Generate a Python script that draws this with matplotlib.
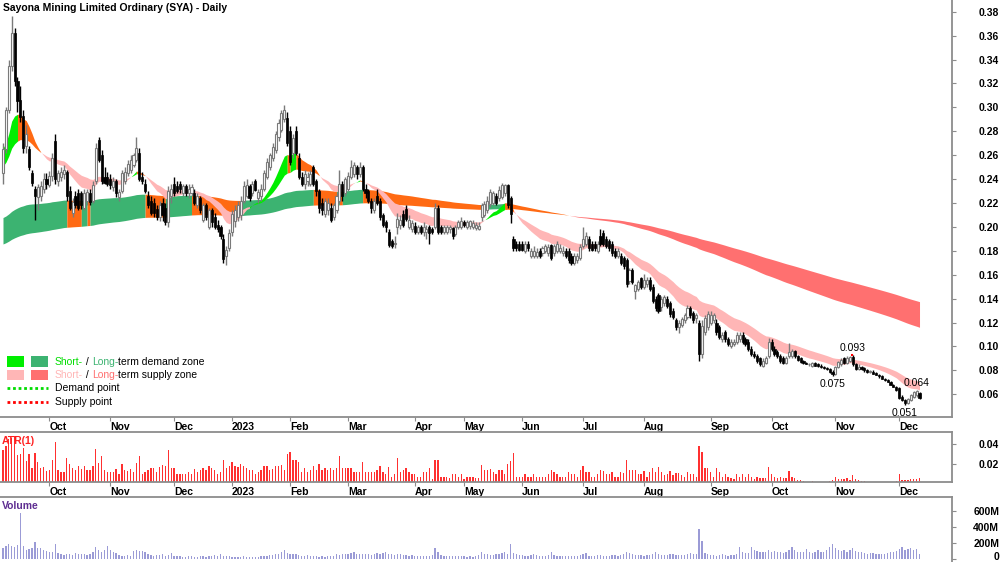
import numpy as np
import pandas as pd
import matplotlib
matplotlib.use("Agg")
import matplotlib.pyplot as plt
from matplotlib.patches import Rectangle
from matplotlib.lines import Line2D
from matplotlib.transforms import ScaledTranslation

plt.rcParams["font.family"] = ["Liberation Sans", "DejaVu Sans"]

# ---- trading calendar (ASX closures + May 2023 trading halt) ----
asx_holidays = ["2022-09-22", "2022-12-26", "2022-12-27", "2023-01-02", "2023-01-26",
                "2023-04-07", "2023-04-10", "2023-04-25", "2023-06-12"]
halt_days = ["2023-05-24", "2023-05-25", "2023-05-26"]

dates = pd.bdate_range("2022-09-08", "2023-12-12")
dates = dates[~dates.isin(pd.to_datetime(asx_holidays + halt_days))]

# ---- daily OHLC, one line per month ----
open_ = [
    .245, .265, .298, .335, .362, .322, .306, .293, .268, .265, .245, .232, .225, .226, .232, .240,
    .235, .243, .272, .238, .242, .244, .246, .230, .212, .226, .228, .228, .216, .222, .228, .222, .238, .273, .260, .242, .242,
    .240, .233, .238, .225, .230, .238, .245, .248, .252, .256, .262, .242, .236, .226, .222, .220, .215, .208, .220, .216, .204, .226,
    .236, .234, .236, .228, .234, .228, .228, .228, .218, .224, .206, .218, .200, .214, .208, .202, .200, .190, .176, .182,
    .196, .205, .208, .210, .222, .226, .234, .228, .238, .224, .226, .232, .242, .250, .258, .264, .275, .281, .290, .291,
    .280, .262, .280, .258, .242, .236, .238, .236, .250, .238, .230, .220, .211, .214, .216, .208, .214, .222, .236, .228,
    .232, .242, .244, .250, .244, .250, .232, .230, .222, .214, .226, .222, .210, .204, .196, .188, .186, .200, .202, .211, .215, .200, .198,
    .201, .196, .200, .196, .196, .200, .198, .200, .216, .200, .196, .196, .198, .199, .194, .200, .200,
    .204, .200, .201, .200, .199, .198, .208, .210, .214, .219, .220, .226, .224, .225, .228, .235, .224, .190, .186, .186,
    .186, .180, .186, .176, .176, .176, .180, .178, .180, .178, .185, .178, .180, .180, .178, .180, .180, .176, .170, .172, .174,
    .184, .186, .190, .186, .186, .180, .192, .195, .190, .188, .186, .180, .176, .176, .174, .172, .155, .164, .146, .148, .157,
    .150, .152, .156, .150, .140, .143, .133, .136, .140, .136, .130, .122, .116, .118, .122, .125, .132, .128, .124, .120, .094, .112, .116,
    .120, .122, .120, .116, .106, .112, .106, .100, .102, .104, .106, .110, .106, .104, .098, .094, .092, .090, .084, .086, .092,
    .104, .098, .095, .092, .090, .086, .092, .092, .096, .092, .090, .088, .086, .085, .084, .086, .085, .084, .083, .082, .081, .079,
    .077, .083, .085, .090, .086, .088, .091, .085, .081, .083, .082, .080, .079, .079, .078, .076, .075, .073, .072, .070, .068, .066,
    .065, .058, .055, .053, .055, .058, .059, .061,
]
high = [
    .270, .300, .340, .376, .366, .325, .318, .298, .285, .268, .248, .234, .236, .238, .245, .245,
    .247, .262, .278, .248, .250, .252, .248, .234, .224, .230, .232, .230, .232, .232, .232, .238, .270, .275, .264, .250, .246,
    .244, .242, .240, .232, .248, .250, .256, .260, .262, .275, .266, .246, .240, .230, .226, .224, .218, .222, .224, .220, .234, .236,
    .242, .238, .238, .236, .236, .236, .236, .232, .228, .226, .220, .220, .216, .216, .212, .206, .202, .194, .184, .198,
    .214, .218, .222, .226, .238, .240, .236, .238, .240, .232, .236, .248, .258, .262, .270, .280, .290, .298, .302, .296,
    .284, .278, .284, .262, .246, .248, .246, .248, .252, .240, .232, .224, .224, .224, .220, .220, .228, .248, .238, .242,
    .246, .256, .254, .252, .254, .252, .236, .232, .224, .224, .232, .224, .212, .206, .198, .190, .192, .212, .210, .214, .218, .210, .206,
    .204, .202, .202, .204, .202, .202, .200, .220, .218, .202, .202, .202, .202, .200, .202, .206, .208,
    .206, .206, .206, .206, .204, .204, .220, .222, .226, .232, .230, .228, .234, .237, .236, .236, .226, .192, .188, .188,
    .188, .188, .188, .182, .184, .182, .182, .184, .186, .186, .186, .186, .188, .186, .184, .182, .182, .178, .178, .178, .186,
    .200, .196, .192, .188, .188, .188, .198, .197, .192, .190, .188, .182, .182, .178, .176, .174, .166, .166, .152, .156, .158,
    .161, .158, .158, .152, .142, .145, .142, .143, .142, .138, .132, .124, .122, .125, .128, .135, .134, .130, .128, .122, .122, .126, .130,
    .130, .128, .123, .118, .112, .114, .108, .106, .106, .112, .112, .112, .108, .106, .100, .096, .094, .091, .090, .092, .107,
    .106, .100, .097, .094, .092, .092, .103, .098, .097, .093, .091, .089, .087, .086, .087, .087, .086, .085, .084, .083, .082, .080,
    .084, .088, .090, .091, .092, .092, .093, .086, .085, .084, .083, .081, .080, .080, .079, .077, .076, .074, .073, .071, .069, .067,
    .066, .059, .056, .057, .060, .063, .064, .062,
]
low = [
    .236, .262, .295, .330, .318, .296, .288, .262, .262, .248, .234, .206, .214, .222, .228, .232,
    .233, .238, .236, .234, .238, .240, .222, .214, .208, .216, .214, .215, .214, .218, .218, .220, .236, .254, .236, .236, .234,
    .232, .230, .225, .222, .228, .236, .243, .245, .250, .254, .238, .236, .228, .216, .210, .208, .206, .205, .205, .202, .200, .220,
    .226, .228, .228, .226, .226, .224, .226, .218, .216, .212, .204, .206, .198, .200, .198, .196, .190, .170, .168, .180,
    .192, .200, .205, .206, .220, .224, .222, .226, .230, .220, .222, .230, .240, .248, .255, .262, .272, .279, .288, .268,
    .252, .258, .260, .240, .234, .232, .234, .234, .234, .226, .212, .210, .208, .210, .204, .206, .212, .220, .222, .226,
    .230, .240, .242, .240, .242, .230, .224, .220, .212, .212, .218, .206, .200, .196, .183, .182, .182, .194, .198, .200, .205, .198, .196,
    .194, .194, .194, .192, .190, .186, .194, .198, .194, .194, .194, .194, .195, .190, .192, .198, .198,
    .200, .198, .198, .198, .197, .197, .205, .208, .212, .217, .218, .218, .222, .223, .226, .216, .203, .180, .180, .180,
    .180, .178, .180, .174, .174, .174, .174, .176, .178, .176, .172, .176, .178, .178, .176, .174, .170, .168, .168, .170, .172,
    .182, .184, .180, .180, .180, .178, .184, .184, .182, .180, .176, .174, .174, .168, .165, .150, .152, .152, .140, .146, .148,
    .148, .150, .146, .136, .130, .128, .130, .134, .132, .125, .123, .114, .111, .116, .120, .123, .124, .120, .120, .088, .090, .110, .114,
    .118, .120, .110, .106, .104, .104, .100, .099, .100, .102, .104, .102, .100, .096, .092, .090, .086, .084, .083, .085, .090,
    .096, .092, .090, .086, .085, .085, .090, .090, .090, .088, .086, .085, .085, .084, .083, .084, .083, .082, .081, .080, .078, .075,
    .076, .082, .084, .085, .085, .087, .084, .080, .080, .080, .079, .078, .078, .077, .076, .074, .073, .071, .070, .068, .066, .063,
    .056, .054, .051, .052, .054, .057, .058, .056,
]
close = [
    .265, .298, .335, .362, .322, .305, .292, .266, .278, .250, .237, .226, .233, .234, .240, .236,
    .243, .258, .240, .245, .246, .248, .226, .216, .221, .218, .216, .218, .228, .229, .221, .235, .266, .256, .238, .237, .236,
    .235, .238, .228, .229, .245, .246, .253, .256, .260, .266, .240, .238, .230, .218, .212, .212, .208, .218, .210, .204, .230, .232,
    .228, .230, .232, .234, .228, .232, .233, .220, .226, .214, .218, .208, .214, .204, .200, .198, .192, .173, .181, .195,
    .211, .214, .218, .222, .234, .235, .224, .236, .231, .229, .232, .245, .254, .260, .267, .278, .287, .295, .298, .270,
    .254, .274, .262, .242, .236, .244, .242, .244, .236, .230, .216, .214, .222, .220, .206, .218, .226, .236, .226, .240,
    .243, .250, .252, .244, .250, .232, .228, .222, .216, .222, .220, .208, .202, .200, .185, .184, .186, .207, .206, .202, .207, .206, .203,
    .196, .200, .196, .200, .198, .195, .196, .216, .196, .196, .200, .200, .200, .192, .200, .204, .205,
    .202, .204, .205, .203, .202, .201, .218, .219, .222, .229, .228, .220, .231, .235, .235, .218, .211, .182, .182, .181,
    .181, .186, .182, .180, .180, .179, .176, .182, .184, .183, .174, .184, .186, .182, .180, .176, .172, .170, .176, .176, .183,
    .190, .192, .182, .181, .182, .186, .186, .186, .184, .182, .178, .176, .180, .170, .167, .152, .164, .154, .151, .154, .150,
    .156, .156, .148, .138, .132, .130, .140, .141, .134, .127, .125, .116, .120, .123, .126, .132, .126, .122, .126, .094, .117, .124, .127,
    .126, .126, .112, .108, .110, .106, .102, .104, .104, .110, .110, .104, .102, .098, .094, .092, .088, .085, .088, .090, .104,
    .098, .094, .092, .088, .086, .090, .095, .096, .092, .089, .087, .086, .085, .085, .086, .084, .084, .083, .082, .081, .079, .077,
    .083, .087, .089, .086, .090, .091, .085, .081, .083, .081, .080, .079, .079, .077, .076, .075, .073, .072, .070, .068, .066, .064,
    .057, .055, .053, .056, .059, .062, .063, .057,
]
# daily volume, millions of shares
volume_m = [
    145, 160, 190, 165, 158, 180, 575, 166, 120, 125, 137, 220, 145, 137, 120, 108,
    95, 90, 185, 75, 62, 55, 70, 62, 58, 75, 66, 60, 62, 55, 70, 85, 150, 110, 95, 120, 166,
    110, 85, 80, 58, 45, 40, 48, 38, 104, 110, 104, 98, 88, 60, 55, 45, 52, 58, 70, 45, 55, 75,
    40, 35, 45, 32, 30, 38, 35, 30, 33, 45, 38, 30, 35, 40, 50, 45, 60, 35, 40, 45,
    30, 28, 25, 30, 35, 28, 25, 30, 28, 32, 40, 38, 45, 48, 55, 60, 70, 95, 116, 75,
    70, 60, 65, 58, 45, 40, 50, 38, 35, 45, 30, 35, 32, 40, 38, 35, 60, 55, 70, 65,
    60, 75, 95, 70, 65, 60, 72, 68, 55, 60, 75, 65, 80, 88, 70, 60, 55, 72, 65, 55, 50, 45, 48,
    40, 45, 38, 35, 42, 45, 55, 137, 85, 55, 45, 40, 38, 35, 40, 45, 42,
    35, 30, 38, 32, 40, 55, 95, 60, 65, 55, 50, 60, 70, 75, 85, 70, 187, 80, 60, 55,
    50, 45, 40, 55, 65, 50, 45, 40, 38, 55, 95, 50, 45, 40, 38, 35, 42, 40, 38, 45, 50,
    60, 75, 45, 40, 38, 50, 55, 45, 40, 42, 50, 48, 45, 50, 60, 95, 75, 65, 55, 50, 48,
    45, 55, 50, 60, 87, 70, 55, 50, 58, 65, 60, 55, 50, 48, 52, 60, 75, 65, 70, 379, 233, 75, 60,
    55, 50, 45, 48, 60, 52, 45, 55, 58, 62, 150, 95, 80, 75, 158, 110, 100, 95, 90, 85, 110,
    95, 105, 90, 85, 80, 95, 120, 158, 110, 95, 85, 90, 125, 95, 80, 90, 110, 85, 95, 120, 150, 191,
    145, 120, 100, 110, 95, 115, 137, 105, 85, 95, 80, 70, 75, 80, 68, 72, 65, 70, 78, 85, 90, 100,
    125, 158, 116, 130, 137, 120, 125, 60,
]

# swing points labelled on the chart: (bar index, which price)
swing_points = [(293, "high"), (286, "low"), (315, "high"), (311, "low")]

# zone EMAs: (fast span, slow span) and their values just before the first bar
SHORT_SPANS, SHORT_SEED = (15, 30), (0.266, 0.250)
LONG_SPANS, LONG_SEED = (140, 220), (0.207, 0.185)

o, h, l, c = (np.array(a) for a in (open_, high, low, close))
vol = np.array(volume_m, dtype=float)
n = len(c)
assert len(o) == len(h) == len(l) == n == len(vol) == len(dates), (len(o), len(h), len(l), n, len(vol), len(dates))
x = np.arange(n)

# ATR(1) = true range
prev_c = np.r_[c[0], c[:-1]]
atr = np.maximum(h, prev_c) - np.minimum(l, prev_c)
atr[0] = h[0] - l[0]


def ema(values, span, seed):
    a = 2.0 / (span + 1)
    out = np.empty(len(values))
    prev = seed
    for i, v in enumerate(values):
        prev = prev + a * (v - prev)
        out[i] = prev
    return out


def draw_zone(ax, fast, slow, colors):
    # 0 = demand (fast above and rising), 1 = weakening (fast above, falling), 2 = supply
    rising = np.diff(fast, prepend=fast[0]) >= 0
    state = np.where(fast >= slow, np.where(rising, 0, 1), 2)
    start = 0
    for i in range(1, n + 1):
        if i == n or state[i] != state[start]:
            a = max(start - 1, 0)
            ax.fill_between(x[a:i], fast[a:i], slow[a:i], color=colors[state[start]],
                            lw=0, zorder=1)
            start = i


short_fast = ema(c, SHORT_SPANS[0], SHORT_SEED[0])
short_slow = ema(c, SHORT_SPANS[1], SHORT_SEED[1])
long_fast = ema(c, LONG_SPANS[0], LONG_SEED[0])
long_slow = ema(c, LONG_SPANS[1], LONG_SEED[1])

GREEN, DKGREEN, ORANGE, PINK, RED = "#00EE00", "#3CB371", "#FF6A13", "#FFB6B6", "#FF7070"
GRAY = "#8c8c8c"
FS = 7.5

fig = plt.figure(figsize=(10, 5.62), dpi=100)
W, H = 1000.0, 562.0
ax = fig.add_axes([0, 1 - 417 / H, 952 / W, 417 / H])
ax_atr = fig.add_axes([0, 1 - 482.3 / H, 952 / W, 50.6 / H])
ax_vol = fig.add_axes([0, 0, 952 / W, 65 / H])

# ---- price panel ----
draw_zone(ax, long_fast, long_slow, [DKGREEN, ORANGE, RED])
draw_zone(ax, short_fast, short_slow, [GREEN, ORANGE, PINK])

up = c >= o
ax.vlines(x[up], l[up], h[up], color="#7a7a7a", lw=1.0, zorder=3)
ax.vlines(x[~up], l[~up], h[~up], color="black", lw=1.0, zorder=3)
body = np.maximum(np.abs(c - o), 0.0007)
bottom = np.minimum(o, c)
ax.bar(x[up], body[up], bottom=bottom[up], width=0.72, color="white",
       edgecolor="#7a7a7a", lw=0.8, zorder=4)
ax.bar(x[~up], body[~up], bottom=bottom[~up], width=0.72, color="black",
       edgecolor="black", lw=0.5, zorder=4)

for i, kind in swing_points:
    if kind == "high":
        ax.annotate(f"{h[i]:.3f}", (i, h[i]), xytext=(0, 1), textcoords="offset points",
                    ha="center", va="bottom", fontsize=FS)
    else:
        ax.annotate(f"{l[i]:.3f}", (i, l[i]), xytext=(0, -2), textcoords="offset points",
                    ha="center", va="top", fontsize=FS)
ax.plot([292.5, 293.5], [h[293], h[293]], color="red", lw=1.5, ls=":", zorder=5)

ax.set_ylim(0.041, 0.3898)
ax.set_yticks(np.arange(0.06, 0.381, 0.02))

# ---- ATR panel ----
ax_atr.bar(x, atr, width=0.45, color="#FF3030", lw=0)
ax_atr.set_ylim(0.0023, 0.0521)
ax_atr.set_yticks([0.02, 0.04])

# ---- volume panel ----
ax_vol.bar(x, vol, width=0.45, color="#9B9BD6", lw=0)
ax_vol.set_ylim(-34, 779)
ax_vol.set_yticks([0, 200, 400, 600])

# ---- axes styling ----
month_idx = np.where(dates.month[1:] != dates.month[:-1])[0] + 1
month_lbl = ["2023" if dates[i].month == 1 else dates[i].strftime("%b") for i in month_idx]

for a in (ax, ax_atr, ax_vol):
    a.set_xlim(-1.03, 327.2)
    a.set_facecolor("white")
    a.spines["left"].set_visible(False)
    for s in a.spines.values():
        s.set_color(GRAY)
        s.set_linewidth(1.3)
    a.yaxis.tick_right()
    a.tick_params(axis="y", direction="out", length=3, color=GRAY, pad=31)
    a.tick_params(axis="x", direction="out", length=3, color=GRAY, pad=0.5)

ax.spines["top"].set_visible(False)
ax_vol.spines["bottom"].set_visible(False)

ax.set_yticklabels([f"{v:.2f}" for v in ax.get_yticks()], fontsize=FS, fontweight="bold", ha="right")
ax_atr.set_yticklabels(["0.02", "0.04"], fontsize=FS, fontweight="bold", ha="right")
ax_vol.set_yticklabels(["0", "200M", "400M", "600M"], fontsize=FS, fontweight="bold", ha="right")
# keep the bottom "0" inside the picture
zero_lbl = ax_vol.get_yticklabels()[0]
zero_lbl.set_transform(zero_lbl.get_transform() + ScaledTranslation(0, 2.5 / 72, fig.dpi_scale_trans))

for a in (ax, ax_atr):
    a.set_xticks(month_idx)
    a.set_xticklabels(month_lbl, fontsize=FS, fontweight="bold", ha="left")
ax_vol.set_xticks([])

# ---- texts ----
def fx(px):
    return px / W


def fy(py):
    return 1 - py / H


fig.text(fx(3), fy(8), "Sayona Mining Limited Ordinary (SYA) - Daily", fontsize=FS,
         fontweight="bold", va="center", ha="left")
fig.text(fx(2), fy(441), "ATR(1)", fontsize=FS, fontweight="bold", color="#FF2020", va="center")
fig.text(fx(2), fy(506), "Volume", fontsize=FS, fontweight="bold", color="#5E2D91", va="center")

# legend
renderer = fig.canvas.get_renderer()


def width_px(s):
    t = fig.text(0, 0, s + "l", fontsize=FS)
    w = t.get_window_extent(renderer).width
    t.remove()
    t = fig.text(0, 0, "l", fontsize=FS)
    w -= t.get_window_extent(renderer).width
    t.remove()
    return w


def parts_text(px, py, parts):
    prefix = ""
    for s, col in parts:
        fig.text(fx(px + width_px(prefix)), fy(py), s, fontsize=FS, color=col, va="center")
        prefix += s


rows_y = [361.7, 375.0, 388.3, 401.7]
for (px, col) in [(7, GREEN), (31, DKGREEN)]:
    fig.add_artist(Rectangle((fx(px), fy(rows_y[0] + 5.3)), fx(17), 10.6 / H,
                             transform=fig.transFigure, color=col, lw=0))
for (px, col) in [(7, PINK), (31, RED)]:
    fig.add_artist(Rectangle((fx(px), fy(rows_y[1] + 5.3)), fx(17), 10.6 / H,
                             transform=fig.transFigure, color=col, lw=0))
fig.add_artist(Line2D([fx(7), fx(48)], [fy(rows_y[2])] * 2, transform=fig.transFigure,
                      color="#00DD00", lw=2, ls=(0, (1, 1))))
fig.add_artist(Line2D([fx(7), fx(48)], [fy(rows_y[3])] * 2, transform=fig.transFigure,
                      color="#FF0000", lw=2, ls=(0, (1, 1))))

parts_text(55, rows_y[0], [("Short-", "#00DD00"), (" / ", "black"), ("Long-", DKGREEN),
                           ("term demand zone", "black")])
parts_text(55, rows_y[1], [("Short-", PINK), (" / ", "black"), ("Long-", RED),
                           ("term supply zone", "black")])
parts_text(55, rows_y[2], [("Demand point", "black")])
parts_text(55, rows_y[3], [("Supply point", "black")])

fig.savefig("out.png", dpi=100, facecolor="white")
